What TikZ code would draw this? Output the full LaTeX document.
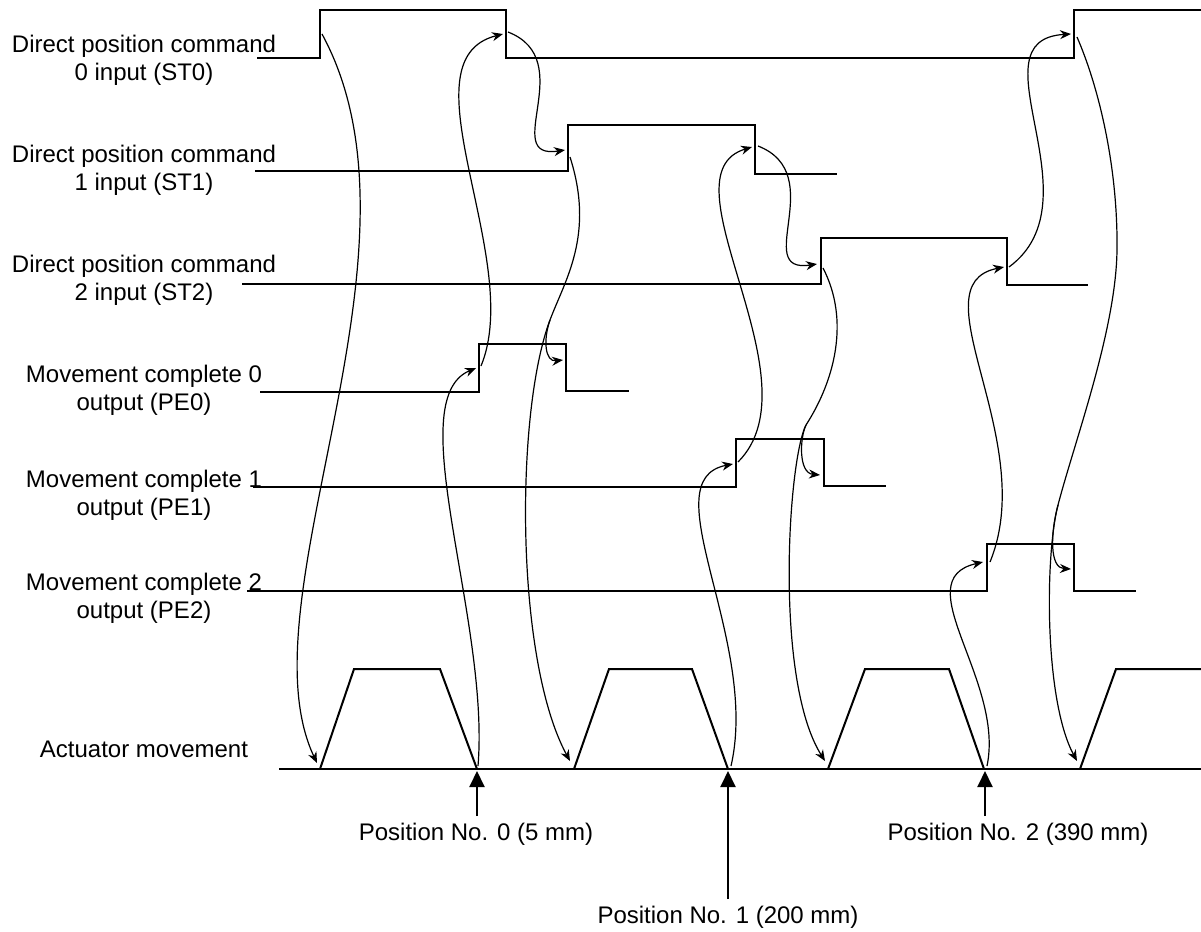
\documentclass[tikz,border=0pt]{standalone}
\usepackage{fontspec}
\setmainfont{Liberation Sans}
\usetikzlibrary{arrows.meta}

\begin{document}
\begin{tikzpicture}[
    x=0.5pt, y=-0.5pt,
    sig/.style={line width=1pt},
    link/.style={line width=0.6pt, -{Stealth[length=5.5pt, width=4.5pt]}},
    posarrow/.style={line width=1pt, -{Triangle[length=8pt, width=7.5pt]}},
    lbl/.style={font=\fontsize{12}{14}\selectfont, align=center, inner sep=0pt}
]
\useasboundingbox (0,0) rectangle (1201,932);

% signal names
\node[lbl, anchor=north] (nst0) at (144,34.5) {Direct position command\\0 input (ST0)};
\node[lbl, anchor=north] (nst1) at (144,144.5) {Direct position command\\1 input (ST1)};
\node[lbl, anchor=north] (nst2) at (144,254.5) {Direct position command\\2 input (ST2)};
\node[lbl, anchor=north] (npe0) at (144,364.5) {Movement complete 0\\output (PE0)};
\node[lbl, anchor=north] (npe1) at (144,469.5) {Movement complete 1\\output (PE1)};
\node[lbl, anchor=north] (npe2) at (144,572.5) {Movement complete 2\\output (PE2)};
\node[lbl, anchor=base] (nact) at (144,757) {Actuator movement};

% signals
\draw[sig] (257,58) -- (320,58) -- (320,10) -- (506,10) -- (506,58) -- (1074,58) -- (1074,10) -- (1201,10);
\draw[sig] (255,171) -- (568,171) -- (568,125) -- (755,125) -- (755,174) -- (837,174);
\draw[sig] (242,284) -- (821,284) -- (821,238) -- (1007,238) -- (1007,285) -- (1088,285);
\draw[sig] (260,392) -- (479,392) -- (479,344) -- (566,344) -- (566,391) -- (629,391);
\draw[sig] (253,487) -- (736,487) -- (736,439) -- (824,439) -- (824,486) -- (886,486);
\draw[sig] (247,591) -- (987,591) -- (987,544) -- (1074,544) -- (1074,591) -- (1136,591);

% actuator
\draw[sig] (279,769) -- (1201,769);
\draw[sig] (320,769) -- (354,669) -- (440,669) -- (477,769);
\draw[sig] (574,769) -- (609,669) -- (692,669) -- (728,769);
\draw[sig] (828,769) -- (865,669) -- (949,669) -- (984,769);
\draw[sig] (1080,769) -- (1116,669) -- (1201,669);

% edge points
\coordinate (st0a) at (322,34);
\coordinate (st0b) at (503,34);
\coordinate (st0c) at (508,32);
\coordinate (st1a) at (565,150);
\coordinate (st1b) at (570,157);
\coordinate (st1c) at (752,147);
\coordinate (st1d) at (758,146);
\coordinate (st2a) at (817,264);
\coordinate (st2b) at (823,268);
\coordinate (st2c) at (1004,267);
\coordinate (st2d) at (1009,267);
\coordinate (st0d) at (1071,34);
\coordinate (st0e) at (1077,37);
\coordinate (pe0a) at (476,368);
\coordinate (pe0b) at (481,366);
\coordinate (pe0c) at (563,360);
\coordinate (pe1a) at (733,464);
\coordinate (pe1b) at (738,462);
\coordinate (pe1c) at (820,475);
\coordinate (pe2a) at (983,562);
\coordinate (pe2b) at (990,562);
\coordinate (pe2c) at (1071,569);
\coordinate (mv0a) at (317,763);
\coordinate (mv0b) at (478,766);
\coordinate (mv1a) at (570,761);
\coordinate (mv1b) at (731,766);
\coordinate (mv2a) at (825,761);
\coordinate (mv2b) at (987,766);
\coordinate (mv3a) at (1077,761);
\coordinate (fork1) at (550,320);
\coordinate (fork2) at (806,425);
\coordinate (bend3) at (1117,250);
\coordinate (fork3) at (1058,505);

% cause and effect
\draw[link] (st0a) .. controls +(118,217) and +(-77,-163) .. (mv0a);
\draw[link] (mv0b) .. controls +(12,-146) and +(-76,32) .. (pe0a);
\draw[link] (pe0b) .. controls +(44,-106) and +(-103,26) .. (st0b);
\draw[link] (st0c) .. controls +(72,28) and +(-66,10) .. (st1a);
\draw[link] (st1b) .. controls +(25,78) and +(15,-40) .. (fork1)
    .. controls +(-7,20) and +(-18,2) .. (pe0c);
\draw[link] (fork1) .. controls +(-35,93) and +(-55,-101) .. (mv1a);
\draw[link] (mv1b) .. controls +(29,-126) and +(-83,16) .. (pe1a);
\draw[link] (pe1b) .. controls +(82,-82) and +(-93,28) .. (st1c);
\draw[link] (st1d) .. controls +(72,28) and +(-66,10) .. (st2a);
\draw[link] (st2b) .. controls +(27,52) and +(29,-45) .. (fork2)
    .. controls +(-6,12) and +(-22,-2) .. (pe1c);
\draw[link] (fork2) .. controls +(-18,35) and +(-51,-81) .. (mv2a);
\draw[link] (mv2b) .. controls +(18,-86) and +(-78,18) .. (pe2a);
\draw[link] (pe2b) .. controls +(50,-122) and +(-89,18) .. (st2c);
\draw[link] (st2d) .. controls +(91,-67) and +(-101,6) .. (st0d);
\draw[link] (st0e) .. controls +(23,53) and +(1,-80) .. (bend3)
    .. controls +(-1,80) and +(17,-65) .. (fork3)
    .. controls +(-8,30) and +(-21,-1) .. (pe2c);
\draw[link] (fork3) .. controls +(-13,50) and +(-33,-61) .. (mv3a);

% positions
\coordinate (x0) at (477,771);
\coordinate (x1) at (728,771);
\coordinate (x2) at (985,771);
\node[lbl, inner sep=3pt, anchor=base] (pos0) at (476,840) {Position No. 0 (5 mm)};
\node[lbl, inner sep=3pt, anchor=base] (pos1) at (728,923) {Position No. 1 (200 mm)};
\node[lbl, inner sep=3pt, anchor=base] (pos2) at (1018,840) {Position No. 2 (390 mm)};
\draw[posarrow] (x0 |- pos0.north) -- (x0);
\draw[posarrow] (x1 |- pos1.north) -- (x1);
\draw[posarrow] (x2 |- pos2.north) -- (x2);
\end{tikzpicture}
\end{document}
